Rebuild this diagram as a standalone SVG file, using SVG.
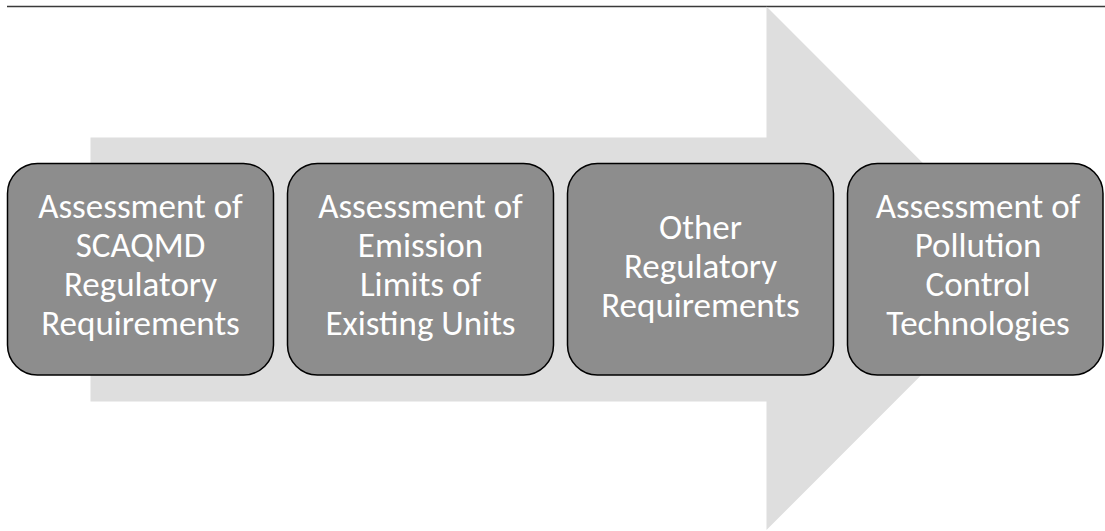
<svg xmlns="http://www.w3.org/2000/svg" width="1105" height="531" viewBox="0 0 1105 531">
  <style>
    .node rect { fill: #8d8d8d; stroke: #000; stroke-width: 1.5; }
    .node text { fill: #fff; font-family: Calibri, Carlito, "Liberation Sans", sans-serif; font-size: 35px; text-anchor: middle; }
  </style>
  <rect width="1105" height="531" fill="#fff"/>
  <line x1="7" y1="6.5" x2="1105" y2="6.5" stroke="#3a3a3a" stroke-width="1.6"/>
  <g id="connectors">
    <polygon id="arrow" points="90.5,137.5 766.5,137.5 766.5,6.5 1028,268.3 766.5,530 766.5,401.5 90.5,401.5" fill="#dedede"/>
  </g>
  <g id="node1" class="node">
    <rect x="7.5" y="163.5" width="266" height="211.5" rx="30" ry="30"/>
    <text x="140.5" y="218">Assessment of</text>
    <text x="140.5" y="257">SCAQMD</text>
    <text x="140.5" y="296">Regulatory</text>
    <text x="140.5" y="335">Requirements</text>
  </g>
  <g id="node2" class="node">
    <rect x="287.5" y="163.5" width="266" height="211.5" rx="30" ry="30"/>
    <text x="420.5" y="218">Assessment of</text>
    <text x="420.5" y="257">Emission</text>
    <text x="420.5" y="296">Limits of</text>
    <text x="420.5" y="335">Existing Units</text>
  </g>
  <g id="node3" class="node">
    <rect x="567.5" y="163.5" width="266" height="211.5" rx="30" ry="30"/>
    <text x="700.5" y="239">Other</text>
    <text x="700.5" y="278">Regulatory</text>
    <text x="700.5" y="317">Requirements</text>
  </g>
  <g id="node4" class="node">
    <rect x="847.5" y="163.5" width="255.5" height="211.5" rx="30" ry="30"/>
    <text x="978" y="218">Assessment of</text>
    <text x="978" y="257">Pollution</text>
    <text x="978" y="296">Control</text>
    <text x="978" y="335">Technologies</text>
  </g>
</svg>
